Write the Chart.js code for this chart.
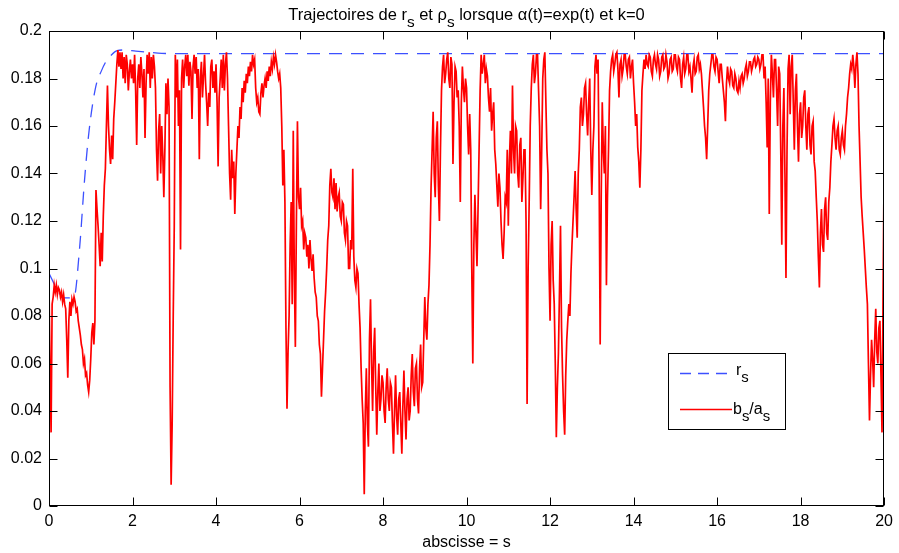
<!DOCTYPE html>
<html><head><meta charset="utf-8">
<script src="https://cdn.jsdelivr.net/npm/chart.js@4.4.0/dist/chart.umd.min.js"></script>
<style>html,body{margin:0;padding:0;background:#fff;}canvas{display:block;}</style>
</head><body>
<canvas id="c" width="899" height="553"></canvas>
<script>
// ---- data ----
const xTickValues = [0,2,4,6,8,10,12,14,16,18,20];
const xTickLabels = ["0","2","4","6","8","10","12","14","16","18","20"];
const yTickValues = [0,0.02,0.04,0.06,0.08,0.1,0.12,0.14,0.16,0.18,0.2];
const yTickLabels = ["0","0.02","0.04","0.06","0.08","0.1","0.12","0.14","0.16","0.18","0.2"];

// r_s (blue dashed)
const rsX = [0, 0.2, 0.37, 0.6, 0.73, 0.85, 0.96, 1.12, 1.25, 1.36, 1.5, 1.63, 1.8, 2.08, 2.4, 2.7, 3.0, 20];
const rsY = [0.098, 0.091, 0.0876, 0.088, 0.108, 0.137, 0.158, 0.1766, 0.183, 0.187, 0.190, 0.1917, 0.192, 0.1915, 0.191, 0.1906, 0.1905, 0.1905];

// b_s/a_s (red), sampled every 0.025 from 0 to 20
const sampleStep = 0.025;
const ratioY = [
// 0
0.092,0.060,0.031,0.085,0.088,0.093,0.090,0.093,0.089,0.092,0.091,0.088,0.090,0.086,0.089,0.085,0.083,0.070,0.054,0.078,
0.086,0.080,0.087,0.085,0.088,0.086,0.082,0.083,0.078,0.075,0.072,0.068,0.066,0.060,0.062,0.055,0.056,0.051,0.048,0.053,
// 1
0.062,0.073,0.077,0.068,0.078,0.133,0.125,0.118,0.110,0.101,0.115,0.103,0.122,0.135,0.142,0.160,0.177,0.160,0.150,0.144,
0.156,0.146,0.163,0.170,0.178,0.186,0.192,0.185,0.191,0.184,0.191,0.180,0.189,0.178,0.190,0.186,0.175,0.183,0.188,0.180,
// 2
0.186,0.178,0.190,0.175,0.152,0.180,0.186,0.176,0.189,0.182,0.172,0.184,0.155,0.178,0.190,0.182,0.191,0.176,0.189,0.180,
0.190,0.185,0.176,0.150,0.137,0.158,0.165,0.140,0.160,0.148,0.130,0.150,0.178,0.165,0.180,0.168,0.050,0.009,0.035,0.080,
// 3
0.118,0.190,0.172,0.188,0.160,0.175,0.108,0.180,0.188,0.176,0.185,0.190,0.181,0.190,0.177,0.187,0.183,0.163,0.185,0.190,
0.182,0.189,0.176,0.184,0.146,0.180,0.187,0.172,0.181,0.190,0.178,0.170,0.160,0.174,0.168,0.185,0.188,0.176,0.183,0.174,
// 4
0.186,0.170,0.143,0.172,0.180,0.188,0.176,0.190,0.175,0.186,0.191,0.180,0.160,0.140,0.129,0.150,0.138,0.145,0.123,0.140,
0.150,0.160,0.155,0.168,0.163,0.176,0.170,0.179,0.174,0.182,0.178,0.185,0.181,0.187,0.183,0.190,0.186,0.188,0.176,0.170,
// 5
0.172,0.166,0.165,0.174,0.178,0.172,0.177,0.180,0.176,0.183,0.179,0.185,0.181,0.187,0.184,0.189,0.186,0.190,0.187,0.183,
0.180,0.182,0.176,0.160,0.135,0.150,0.128,0.075,0.041,0.065,0.080,0.110,0.128,0.085,0.158,0.098,0.067,0.120,0.162,0.130,
// 6
0.125,0.134,0.118,0.120,0.108,0.115,0.113,0.105,0.110,0.100,0.112,0.104,0.099,0.106,0.096,0.090,0.088,0.080,0.078,0.068,
0.064,0.046,0.058,0.070,0.082,0.090,0.100,0.112,0.118,0.135,0.142,0.132,0.130,0.138,0.125,0.136,0.124,0.130,0.132,0.122,
// 7
0.120,0.128,0.127,0.115,0.112,0.120,0.118,0.100,0.100,0.112,0.108,0.142,0.105,0.095,0.092,0.100,0.098,0.085,0.075,0.058,
0.045,0.035,0.005,0.040,0.058,0.035,0.025,0.070,0.087,0.060,0.040,0.065,0.075,0.050,0.030,0.048,0.060,0.040,0.045,0.055,
// 8
0.052,0.040,0.035,0.050,0.058,0.045,0.040,0.052,0.050,0.035,0.022,0.040,0.055,0.038,0.030,0.045,0.048,0.035,0.022,0.042,
0.057,0.040,0.028,0.045,0.050,0.036,0.040,0.055,0.064,0.048,0.042,0.058,0.060,0.045,0.039,0.058,0.068,0.050,0.052,0.070,
// 9
0.088,0.075,0.070,0.085,0.093,0.110,0.134,0.150,0.166,0.140,0.130,0.155,0.162,0.135,0.120,0.150,0.175,0.185,0.190,0.178,
0.182,0.188,0.191,0.180,0.176,0.189,0.186,0.144,0.170,0.185,0.183,0.172,0.175,0.160,0.128,0.170,0.185,0.176,0.170,0.180,
// 10
0.176,0.160,0.148,0.165,0.150,0.100,0.060,0.110,0.131,0.115,0.101,0.125,0.150,0.175,0.190,0.182,0.186,0.190,0.178,0.184,
0.181,0.172,0.166,0.176,0.158,0.165,0.170,0.150,0.144,0.135,0.126,0.140,0.134,0.120,0.110,0.104,0.115,0.130,0.128,0.150,
// 11
0.118,0.145,0.158,0.140,0.177,0.150,0.140,0.160,0.158,0.140,0.134,0.152,0.155,0.128,0.138,0.150,0.150,0.120,0.043,0.100,
0.128,0.160,0.176,0.186,0.190,0.178,0.182,0.190,0.190,0.175,0.160,0.125,0.150,0.180,0.188,0.191,0.170,0.150,0.140,0.100,
// 12
0.078,0.110,0.120,0.095,0.085,0.060,0.029,0.050,0.064,0.090,0.118,0.075,0.055,0.040,0.030,0.055,0.070,0.078,0.085,0.080,
0.098,0.110,0.120,0.130,0.141,0.125,0.113,0.140,0.150,0.168,0.172,0.160,0.165,0.176,0.178,0.165,0.156,0.170,0.180,0.150,
// 13
0.131,0.150,0.160,0.185,0.190,0.182,0.188,0.140,0.068,0.130,0.170,0.150,0.140,0.160,0.093,0.130,0.150,0.175,0.183,0.188,
0.190,0.183,0.186,0.190,0.191,0.184,0.172,0.186,0.188,0.181,0.184,0.190,0.190,0.185,0.182,0.188,0.189,0.180,0.185,0.188,
// 14
0.178,0.170,0.160,0.165,0.151,0.145,0.134,0.150,0.175,0.182,0.188,0.184,0.190,0.186,0.185,0.190,0.189,0.183,0.181,0.188,
0.190,0.186,0.184,0.190,0.188,0.181,0.183,0.189,0.190,0.184,0.185,0.190,0.187,0.180,0.182,0.188,0.189,0.183,0.184,0.190,
// 15
0.190,0.185,0.183,0.189,0.188,0.180,0.176,0.186,0.189,0.182,0.184,0.190,0.190,0.183,0.185,0.180,0.174,0.185,0.188,0.182,
0.183,0.189,0.190,0.184,0.186,0.182,0.175,0.168,0.160,0.155,0.146,0.160,0.175,0.182,0.186,0.190,0.190,0.185,0.183,0.189,
// 16
0.188,0.183,0.178,0.186,0.186,0.180,0.175,0.170,0.162,0.178,0.185,0.180,0.178,0.184,0.183,0.177,0.176,0.182,0.180,0.175,
0.174,0.179,0.176,0.181,0.182,0.178,0.180,0.184,0.186,0.181,0.183,0.187,0.187,0.183,0.185,0.188,0.189,0.185,0.186,0.189,
// 17
0.188,0.184,0.186,0.190,0.190,0.180,0.185,0.170,0.151,0.180,0.123,0.170,0.190,0.182,0.172,0.188,0.188,0.175,0.160,0.185,
0.182,0.150,0.110,0.160,0.176,0.140,0.096,0.150,0.184,0.190,0.165,0.185,0.190,0.170,0.150,0.175,0.182,0.160,0.145,0.165,
// 18
0.170,0.155,0.160,0.172,0.175,0.160,0.150,0.165,0.168,0.152,0.148,0.160,0.162,0.145,0.141,0.130,0.120,0.105,0.092,0.115,
0.125,0.110,0.107,0.125,0.130,0.115,0.112,0.128,0.134,0.145,0.152,0.160,0.163,0.155,0.150,0.158,0.160,0.150,0.148,0.155,
// 19
0.158,0.152,0.150,0.160,0.165,0.172,0.176,0.182,0.186,0.184,0.190,0.185,0.176,0.186,0.191,0.182,0.160,0.145,0.130,0.122,
0.115,0.108,0.100,0.092,0.085,0.060,0.036,0.055,0.070,0.062,0.050,0.070,0.083,0.065,0.060,0.075,0.078,0.055,0.031,0.090,
// 20
0.141
];

const rsPoints = rsX.map((x,i)=>({x:x, y:rsY[i]}));
const ratioPoints = ratioY.map((y,i)=>({x:Math.round(i*sampleStep*1000)/1000, y:y}));

const FONT = '"Liberation Sans", Arial, Helvetica, sans-serif';
const BLUE = 'rgb(60,80,255)';
const RED = '#ff0000';

function drawRich(ctx, segs, x, y, size, align){
  const subSize = size*0.93;
  let total = 0;
  segs.forEach(s=>{ ctx.font = (s.sub?subSize:size)+'px '+FONT; total += ctx.measureText(s.t).width; });
  let cx = align==='center' ? x-total/2 : x;
  ctx.textAlign='left'; ctx.textBaseline='alphabetic';
  segs.forEach(s=>{
    ctx.font = (s.sub?subSize:size)+'px '+FONT;
    ctx.fillText(s.t, cx, y + (s.sub? size*0.45 : 0));
    cx += ctx.measureText(s.t).width;
  });
}

const decor = {
  id:'decor',
  afterDraw(chart){
    const ctx = chart.ctx, a = chart.chartArea;
    const xs = chart.scales.x, ys = chart.scales.y;
    ctx.save();
    ctx.strokeStyle='#000'; ctx.lineWidth=1;
    const L=Math.round(a.left)+0.5, R=Math.round(a.right)-0.5, T=Math.round(a.top)+0.5, B=Math.round(a.bottom)-0.5;
    ctx.strokeRect(L, T, R-L, B-T);
    const tl = 8;
    ctx.beginPath();
    xTickValues.forEach(v=>{
      const px = Math.round(xs.getPixelForValue(v))+0.5;
      ctx.moveTo(px,B); ctx.lineTo(px,B-tl);
      ctx.moveTo(px,T); ctx.lineTo(px,T+tl);
    });
    yTickValues.forEach(v=>{
      const py = Math.round(ys.getPixelForValue(v))+0.5;
      ctx.moveTo(L,py); ctx.lineTo(L+tl,py);
      ctx.moveTo(R,py); ctx.lineTo(R-tl,py);
    });
    ctx.stroke();

    // title
    ctx.fillStyle='#000';
    drawRich(ctx,[{t:'Trajectoires de r'},{t:'s',sub:true},{t:' et \u03C1'},{t:'s',sub:true},{t:' lorsque \u03B1(t)=exp(t) et k=0'}], (a.left+a.right)/2, 20, 16.5, 'center');

    // legend
    const lx=668.5, ly=353.5, lw=117, lh=76;
    ctx.fillStyle='#fff'; ctx.fillRect(lx,ly,lw,lh);
    ctx.strokeStyle='#000'; ctx.lineWidth=1; ctx.strokeRect(lx,ly,lw,lh);
    ctx.strokeStyle=BLUE; ctx.lineWidth=1.3; ctx.setLineDash([11,7]);
    ctx.beginPath(); ctx.moveTo(680,373.5); ctx.lineTo(732,373.5); ctx.stroke();
    ctx.setLineDash([]);
    ctx.strokeStyle=RED; ctx.lineWidth=1.3;
    ctx.beginPath(); ctx.moveTo(680,409.5); ctx.lineTo(732,409.5); ctx.stroke();
    ctx.fillStyle='#000';
    drawRich(ctx,[{t:'r'},{t:'s',sub:true}], 736, 375, 16, 'left');
    drawRich(ctx,[{t:'b'},{t:'s',sub:true},{t:'/a'},{t:'s',sub:true}], 733, 414, 16, 'left');
    ctx.restore();
  }
};

new Chart(document.getElementById('c'), {
  type:'scatter',
  data:{datasets:[
    {label:'b_s/a_s', data:ratioPoints, showLine:true, borderColor:RED, borderWidth:1.7, pointRadius:0, tension:0, order:0},
    {label:'r_s', data:rsPoints, showLine:true, borderColor:BLUE, borderWidth:1.3, borderDash:[13,9], pointRadius:0, cubicInterpolationMode:'monotone', order:1}
  ]},
  options:{
    responsive:false, animation:false,
    layout:{padding:{top:31,right:10,left:0,bottom:0}},
    plugins:{legend:{display:false}, title:{display:false}, tooltip:{enabled:false}},
    scales:{
      x:{type:'linear', min:0, max:20,
        afterBuildTicks(s){ s.ticks = xTickValues.map(v=>({value:v})); },
        afterFit(s){ s.height = 47; },
        grid:{display:false, drawTicks:false}, border:{display:false},
        ticks:{padding:6, color:'#000', font:{family:FONT,size:16}, maxRotation:0, autoSkip:false,
          callback:(v)=>{const i=xTickValues.indexOf(v); return i>=0?xTickLabels[i]:'';}},
        title:{display:true, text:'abscisse = s', color:'#000', font:{family:FONT,size:16}, padding:{top:0,bottom:1}}
      },
      y:{type:'linear', min:0, max:0.2,
        afterBuildTicks(s){ s.ticks = yTickValues.map(v=>({value:v})); },
        afterFit(s){ s.width = 49; },
        grid:{display:false, drawTicks:false}, border:{display:false},
        ticks:{padding:7, color:'#000', font:{family:FONT,size:16}, autoSkip:false,
          callback:(v)=>{const i=yTickValues.findIndex(t=>Math.abs(t-v)<1e-9); return i>=0?yTickLabels[i]:'';}}
      }
    }
  },
  plugins:[decor]
});
</script>
</body></html>
